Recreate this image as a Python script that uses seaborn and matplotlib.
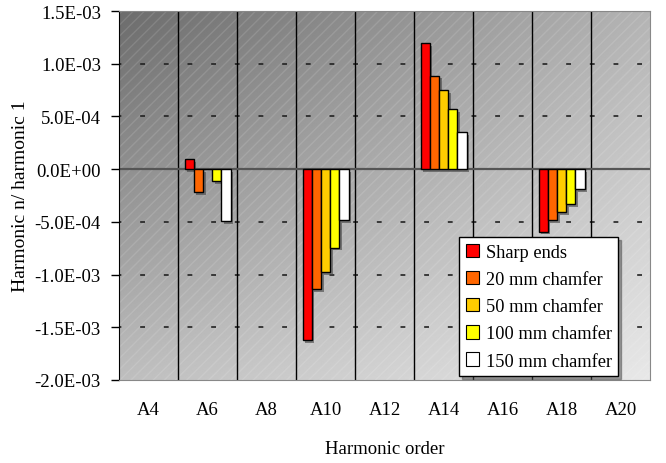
import numpy as np
import pandas as pd
import matplotlib
matplotlib.use('Agg')
import matplotlib.pyplot as plt
import matplotlib.patheffects as pe
from matplotlib.patches import Rectangle
from matplotlib.ticker import FuncFormatter
import seaborn as sns

# Dados
harmonicos = ['A4', 'A6', 'A8', 'A10', 'A12', 'A14', 'A16', 'A18', 'A20']
series = ['Sharp ends', '20 mm chamfer', '50 mm chamfer', '100 mm chamfer', '150 mm chamfer']
cores = ['#FF0000', '#FF6600', '#FFCC00', '#FFFF00', '#FFFFFF']

sharp_ends = [np.nan, 0.95e-4, np.nan, -1.62e-3, np.nan, 1.195e-3, np.nan, -5.93e-4, np.nan]
chamfer_20 = [np.nan, -2.2e-4, np.nan, -1.135e-3, np.nan, 8.88e-4, np.nan, -4.85e-4, np.nan]
chamfer_50 = [np.nan, 0.0, np.nan, -9.77e-4, np.nan, 7.49e-4, np.nan, -4.1e-4, np.nan]
chamfer_100 = [np.nan, -1.1e-4, np.nan, -7.45e-4, np.nan, 5.68e-4, np.nan, -3.3e-4, np.nan]
chamfer_150 = [np.nan, -4.9e-4, np.nan, -4.8e-4, np.nan, 3.49e-4, np.nan, -1.9e-4, np.nan]

valores = [sharp_ends, chamfer_20, chamfer_50, chamfer_100, chamfer_150]
df = pd.DataFrame({
    'Harmonic': harmonicos * len(series),
    'Serie': [s for s in series for _ in harmonicos],
    'Valor': [v for lista in valores for v in lista],
})

plt.rcParams['font.family'] = ['Liberation Serif', 'DejaVu Serif']
fs = 13.5

fig = plt.figure(figsize=(6.66, 4.64), dpi=100)
ax = fig.add_axes([0.1787, 0.1789, 0.7973, 0.7951])

# Fundo em degradê (estilo Excel): escuro em cima à esquerda, claro embaixo à direita
gx, gy = np.meshgrid(np.linspace(0, 1, 300), np.linspace(0, 1, 300))
grad = 108 + 72 * gx + 82 * (1 - gy) - 30 * gx * (1 - gy)
ax.imshow(grad, extent=[0, 1, 0, 1], transform=ax.transAxes, cmap='gray', origin='lower',
          vmin=0, vmax=255, aspect='auto', zorder=0, interpolation='bilinear')
ax.add_patch(Rectangle((0, 0), 1, 1, transform=ax.transAxes, facecolor='none',
                       edgecolor=(1, 1, 1, 0.12), hatch='///', linewidth=0, zorder=0.5))

sns.barplot(data=df, x='Harmonic', y='Valor', hue='Serie', order=harmonicos,
            hue_order=series, palette=cores, width=0.78, edgecolor='black',
            linewidth=1, saturation=1, ax=ax, zorder=3)

for barra in ax.patches:
    if isinstance(barra, Rectangle) and barra.get_zorder() == 3:
        barra.set_path_effects([pe.SimplePatchShadow(offset=(2, -2), shadow_rgbFace='#444444', alpha=0.6),
                                pe.Normal()])

ax.set_ylim(-2.0e-3, 1.5e-3)
ax.set_xlim(-0.5, len(harmonicos) - 0.5)
ax.set_yticks(np.arange(-2.0e-3, 1.51e-3, 0.5e-3))
ax.yaxis.set_major_formatter(FuncFormatter(lambda v, p: f'{v:.1E}'))

# Linhas de grade tracejadas e separadores de categorias
for yv in np.arange(-1.5e-3, 1.51e-3, 0.5e-3):
    if abs(yv) < 1e-9:
        continue
    ax.axhline(yv, color='#222222', linewidth=1.2, linestyle=(1.5, (2.9, 11.3)), zorder=1)
for xv in np.arange(0.5, len(harmonicos) - 0.5, 1):
    ax.axvline(xv, color='black', linewidth=1, zorder=1)
ax.axhline(0, color='#555555', linewidth=1.6, zorder=2)

ax.tick_params(axis='y', direction='out', length=6, width=1, labelsize=fs, pad=7)
ax.tick_params(axis='x', length=0, labelsize=fs, pad=15)
ax.spines['left'].set_color('black')
for lado in ['right', 'top', 'bottom']:
    ax.spines[lado].set_color('#888888')

ax.set_xlabel('Harmonic order', fontsize=fs, labelpad=16)
ax.set_ylabel('Harmonic n/ harmonic 1', fontsize=14, labelpad=4)

leg = ax.legend(loc='lower right', bbox_to_anchor=(0.94, 0.011), borderaxespad=0,
                fontsize=13.2, frameon=True, shadow=True, fancybox=False,
                handlelength=0.75, handleheight=0.75, handletextpad=0.35,
                labelspacing=0.55, borderpad=0.35)
leg.get_frame().set_edgecolor('black')
leg.get_frame().set_facecolor('white')
leg.get_frame().set_alpha(1)
leg.set_zorder(5)
for h in leg.legend_handles:
    h.set_path_effects([])
    h.set_edgecolor('black')
    h.set_linewidth(0.8)

fig.savefig('out.png', dpi=100)
